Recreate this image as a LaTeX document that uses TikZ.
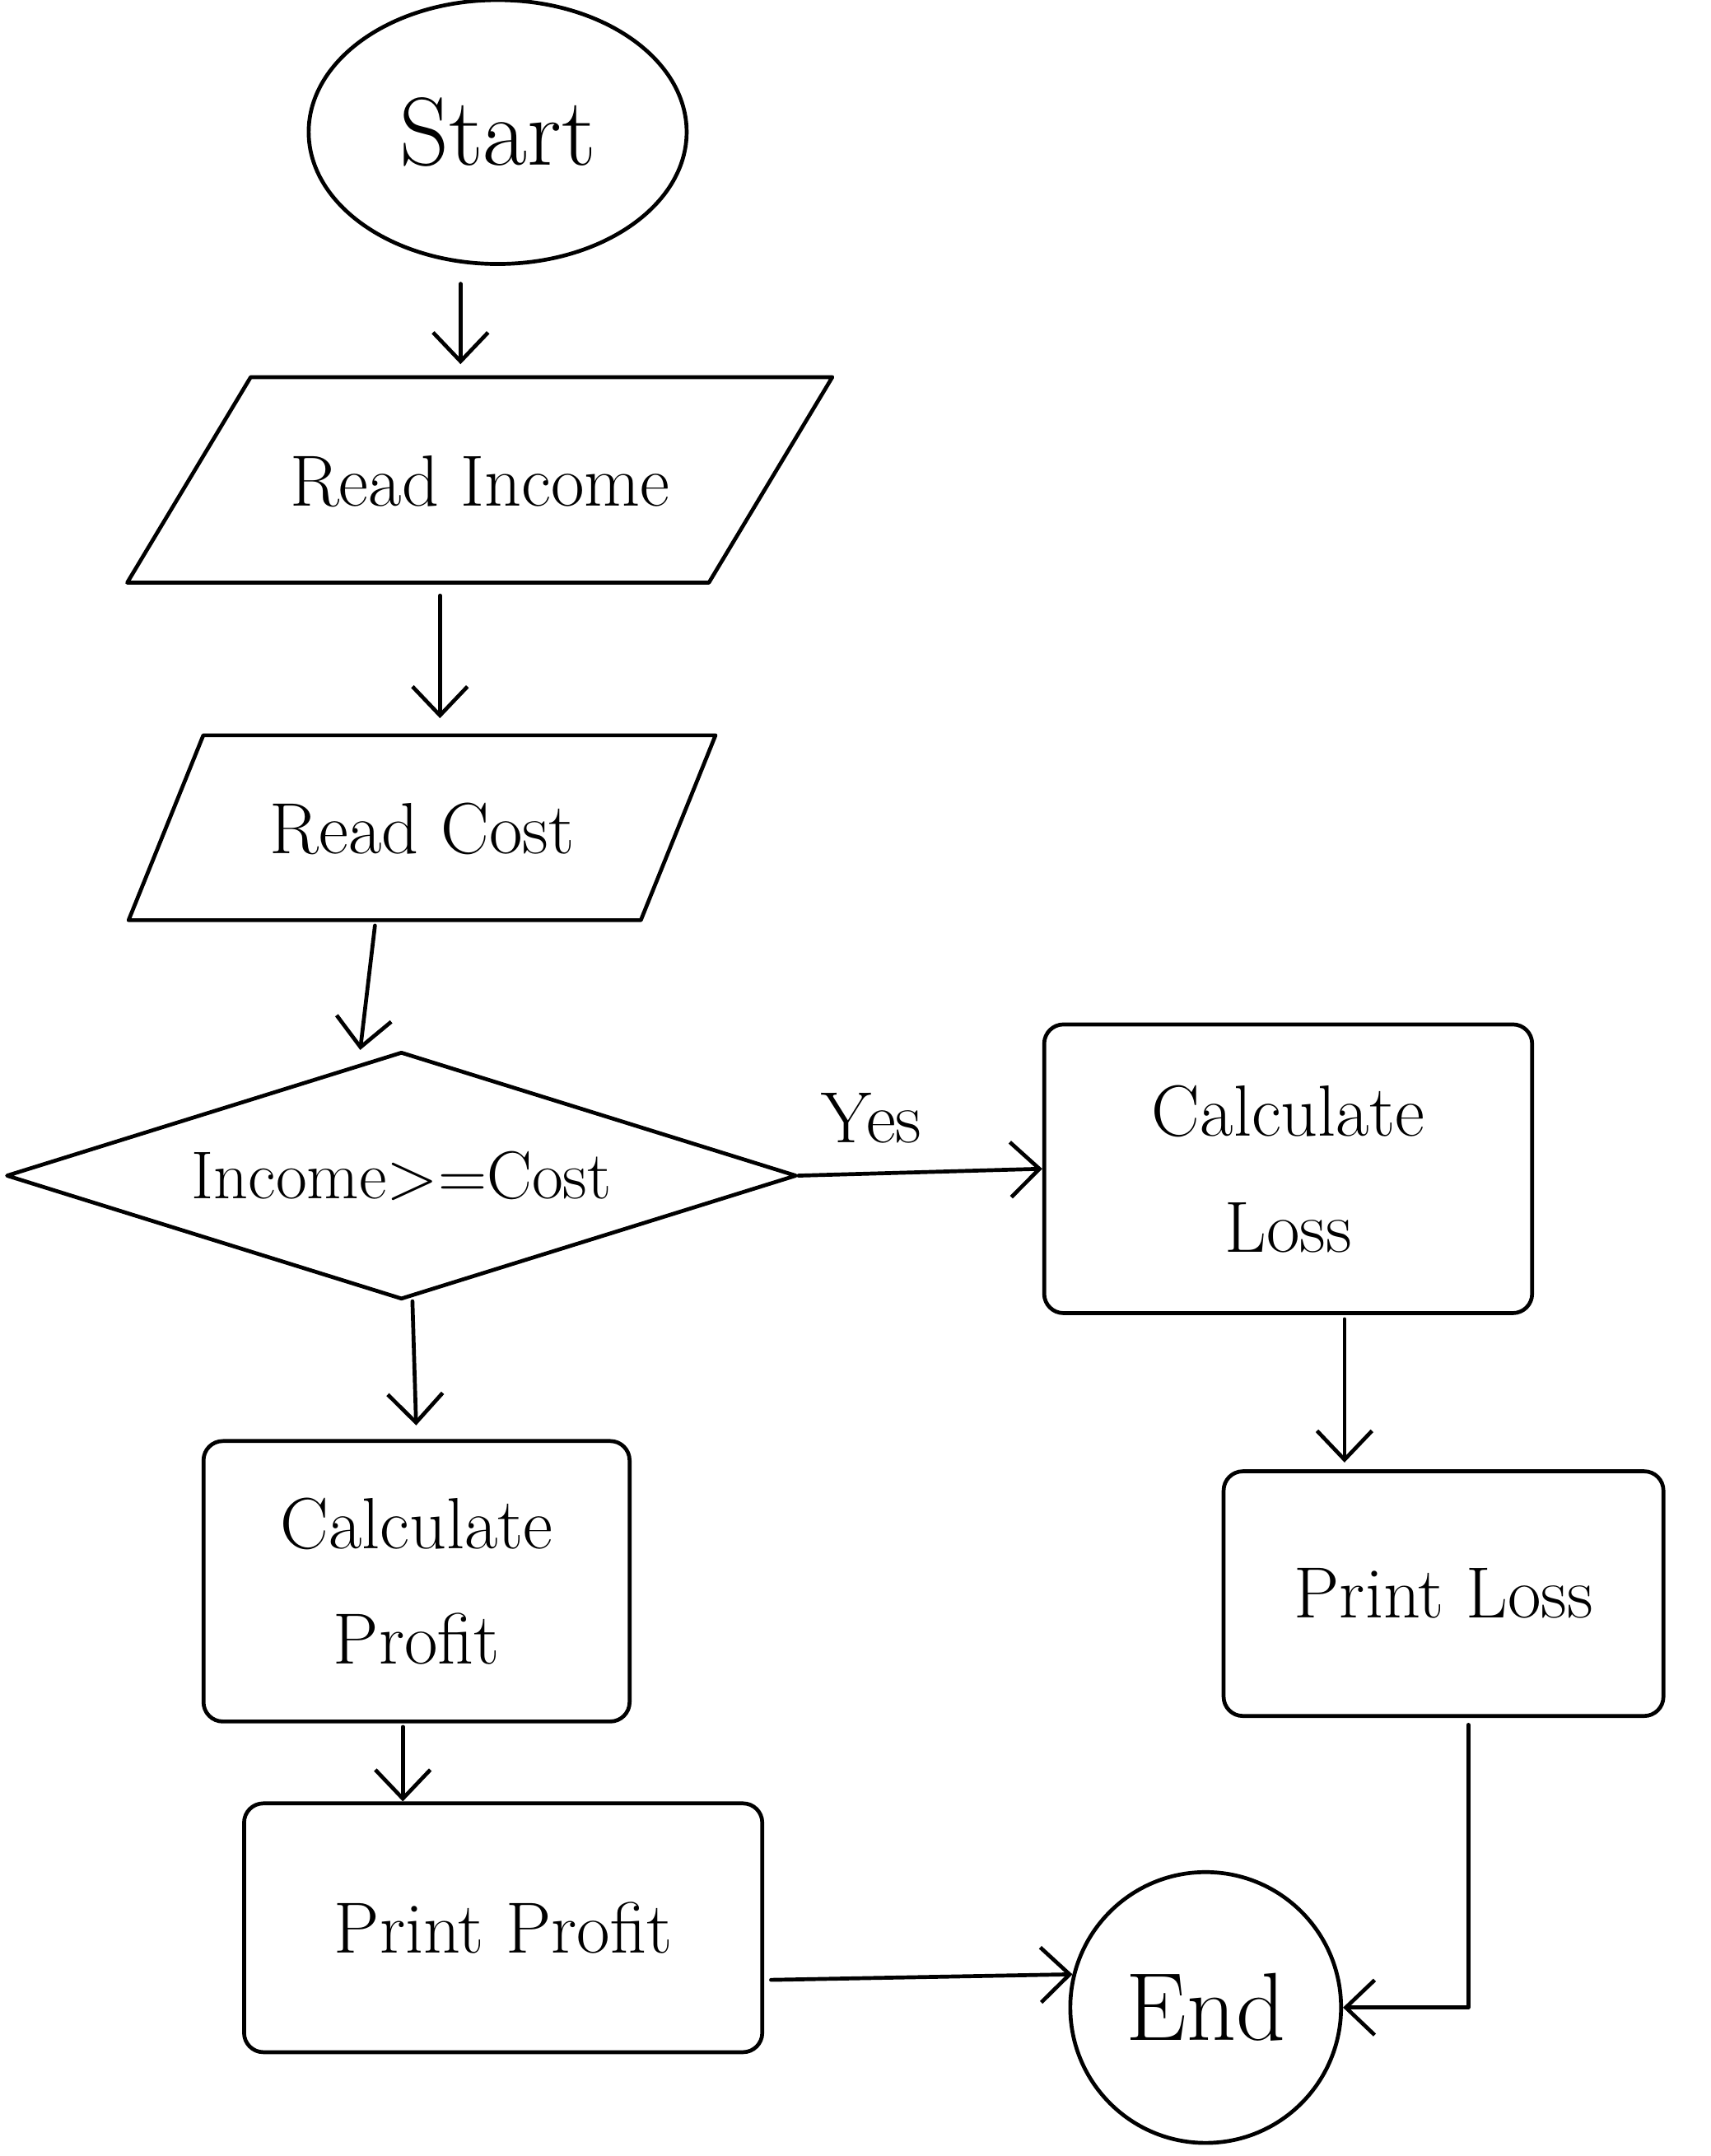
\documentclass[tikz,border=0pt]{standalone}
\usetikzlibrary{shapes.geometric,arrows.meta}
\tikzset{
  box/.style={draw, rounded corners=8pt, align=center, inner sep=0pt},
  iobox/.style={draw, trapezium, trapezium stretches body=true, inner xsep=0pt, text height=0.75cm, text depth=0cm},
  arr/.style={-{Straight Barb[length=0.42cm,width=0.8cm]}},
}
\begin{document}
\begin{tikzpicture}[x=0.02cm, y=-0.02cm, line width=1.6pt, font=\fontsize{30}{48}\selectfont, line join=round, line cap=round]
\useasboundingbox (0,0) rectangle (1244,1568);
%Start, End
\node[draw, ellipse, minimum width=5.5cm, minimum height=3.84cm, font=\fontsize{40}{48}\selectfont] (start) at (362,96) {Start};
\node[draw, circle, minimum size=3.94cm, font=\fontsize{40}{48}\selectfont] (end) at (877,1460) {End};
%Read
\node[iobox, trapezium left angle=59, trapezium right angle=121, minimum width=10.26cm, inner ysep=1.12cm] (income) at (349,349) {Read Income};
\node[iobox, trapezium left angle=68, trapezium right angle=112, minimum width=8.54cm, inner ysep=0.97cm] (cost) at (307,602) {Read Cost};
%Decision
\node[draw, diamond, aspect=3.2, inner sep=0pt, minimum width=11.5cm, minimum height=3.6cm, font=\fontsize{28}{34}\selectfont] (dec) at (292,855) {Income>=Cost};
%Boxes
\foreach \n/\x/\y/\w/\h/\t in {loss/937/850/7.1/4.2/{Calculate\\Loss}, ploss/1050/1159/6.4/3.56/{Print Loss}, profit/303/1150/6.2/4.08/{Calculate\\Profit}, pprofit/366/1402/7.54/3.62/{Print Profit}}
\node[box, minimum width=\w cm, minimum height=\h cm] (\n) at (\x,\y) {\t};
%Arrows
\draw[arr, shorten <=0.26cm, shorten >=0.16cm] ([xshift=-0.54cm]start.south) -- ([xshift=-0.54cm]start.south |- income.north);
\draw[arr, shorten <=0.16cm, shorten >=0.22cm] ([xshift=-0.58cm]income.south) -- ([xshift=-0.58cm]income.south |- cost.north);
\draw[arr, shorten <=0.05cm] ([xshift=-0.68cm]cost.south) -- ([xshift=-0.6cm]dec.north);
\draw[arr] (dec.east) -- node[above=0.3cm, pos=0.3] (yes) {Yes} (loss.west);
\draw[arr, shorten >=0.2cm] ([xshift=0.16cm]dec.south) -- (profit.north);
\draw[arr, shorten <=0.05cm] ([xshift=-0.2cm]profit.south) -- ([xshift=-0.2cm]profit.south |- pprofit.north);
\draw[arr, shorten <=0.06cm, shorten >=0.1cm] ([xshift=0.82cm]loss.south) -- ([xshift=0.82cm]loss.south |- ploss.north);
\draw[arr, shorten <=0.1cm] ([yshift=-0.76cm]pprofit.east) -- (end.166);
\draw[arr, shorten <=0.1cm] ([xshift=0.36cm]ploss.south) |- (end.east);
\end{tikzpicture}
\end{document}
